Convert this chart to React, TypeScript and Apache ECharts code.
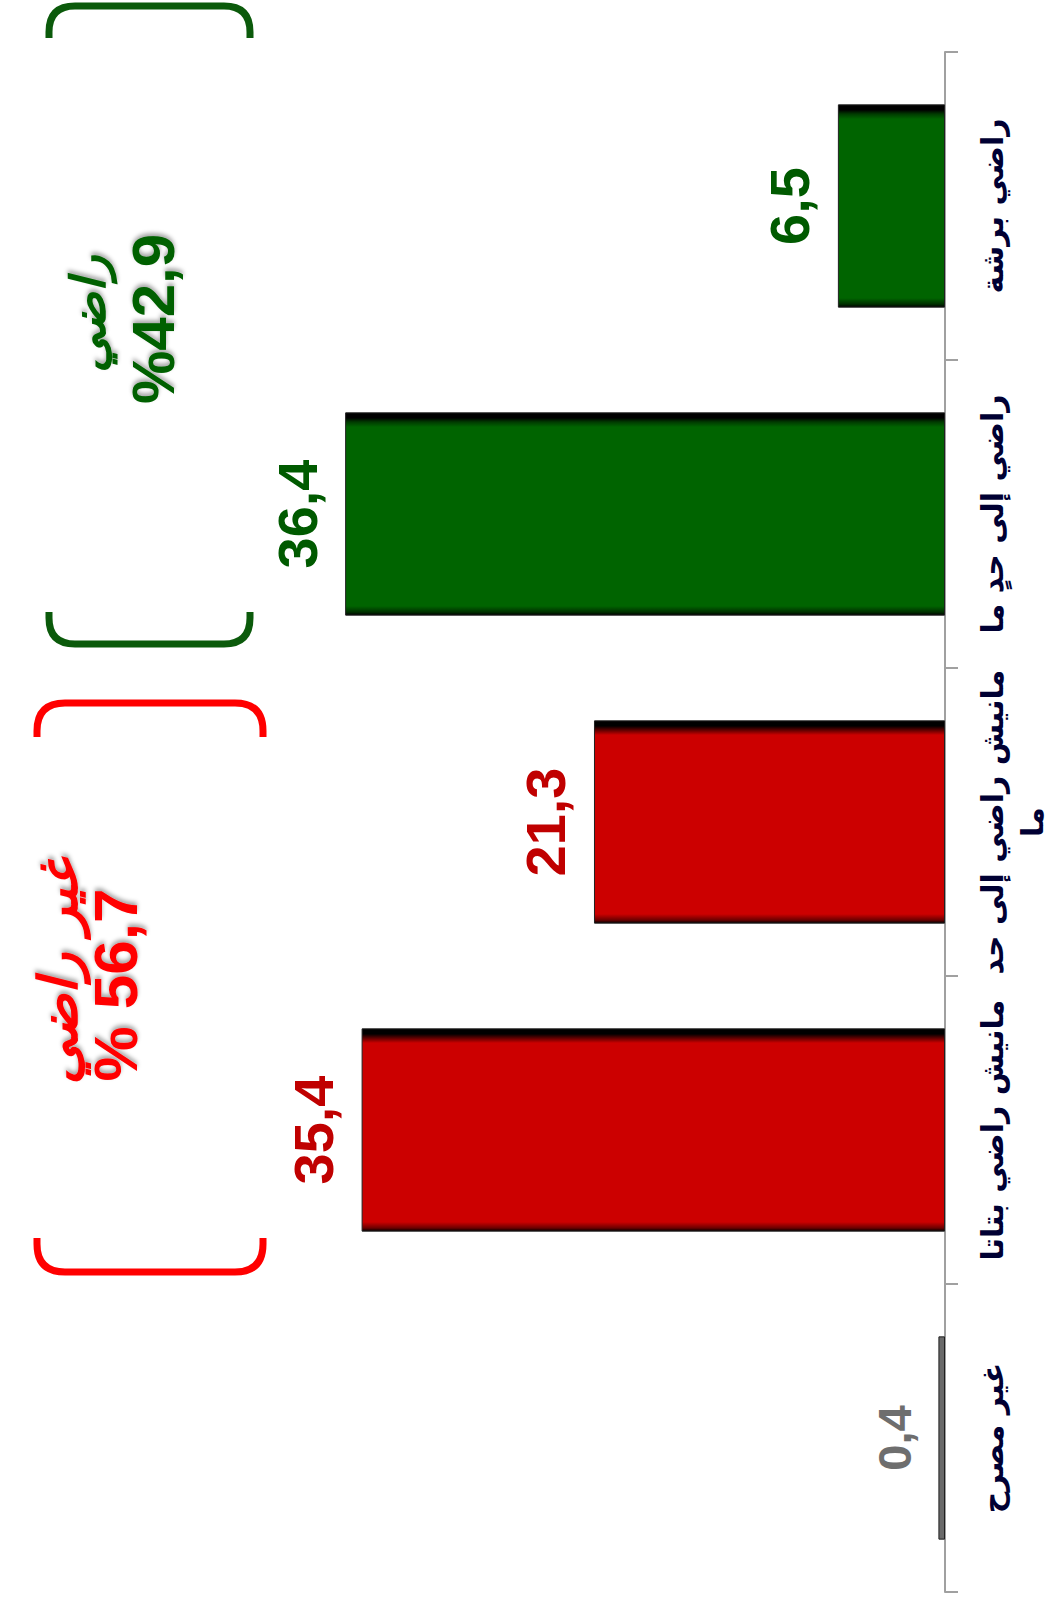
import React, { useEffect, useRef } from 'react';
import * as echarts from 'echarts';

// ---- data ----
const categories = ['غير مصرح', 'مانيش راضي بتاتا', 'مانيش راضي إلى حد\nما', 'راضي إلى حدٍ ما', 'راضي برشة'];
const values = [0.4, 35.4, 21.3, 36.4, 6.5];
const groups = ['neutral', 'red', 'red', 'green', 'green'];
const summaryTitles = ['راضي', 'غير راضي'];
const summaryValues = ['%42,9', '% 56,7'];

// ---- styles ----
const grad = (dark: string, base: string, bottom: string) => ({
  type: 'linear', x: 0, y: 0, x2: 0, y2: 1,
  colorStops: [
    { offset: 0, color: '#000000' },
    { offset: 0.025, color: '#000000' },
    { offset: 0.045, color: dark },
    { offset: 0.07, color: base },
    { offset: 0.955, color: base },
    { offset: 0.985, color: bottom },
    { offset: 1, color: '#000000' },
  ],
});

const groupStyle: Record<string, any> = {
  green: { bar: grad('#003a00', '#006400', '#003000'), label: '#005a00', size: 56 },
  red: { bar: grad('#5a0000', '#cc0000', '#6a0000'), label: '#c00000', size: 56 },
  neutral: { bar: '#6a6a6a', label: '#6e6e6e', size: 47 },
};

const bracketPath = (w: number, h: number, r: number, top: boolean) =>
  top
    ? `M0,${h} L0,${r} Q0,0 ${r},0 L${w - r},0 Q${w},0 ${w},${r} L${w},${h}`
    : `M0,0 L0,${h - r} Q0,${h} ${r},${h} L${w - r},${h} Q${w},${h} ${w},${h - r} L${w},0`;

echarts.graphic.registerShape('brGreenTop', echarts.graphic.extendPath(bracketPath(201, 32, 26, true), {}));
echarts.graphic.registerShape('brGreenBottom', echarts.graphic.extendPath(bracketPath(201, 32, 26, false), {}));
echarts.graphic.registerShape('brRedTop', echarts.graphic.extendPath(bracketPath(226, 34, 28, true), {}));
echarts.graphic.registerShape('brRedBottom', echarts.graphic.extendPath(bracketPath(226, 34, 28, false), {}));

const summaryText = (text: string, x: number, y: number, color: string, font: string) => ({
  type: 'text',
  x,
  y,
  rotation: Math.PI / 2,
  style: {
    text,
    font,
    fill: color,
    align: 'center',
    verticalAlign: 'middle',
    textAlign: 'center',
    textVerticalAlign: 'middle',
    textShadowColor: 'rgba(0,0,0,0.35)',
    textShadowBlur: 4,
    textShadowOffsetX: 3,
    textShadowOffsetY: 0,
  },
});

export default function App() {
  const ref = useRef<HTMLDivElement>(null);

  useEffect(() => {
    const chart = echarts.init(ref.current!, null, { renderer: 'svg' });
    const data = values.map((v, i) => {
      const g = groupStyle[groups[i]];
      return {
        value: v,
        itemStyle: { color: g.bar, borderColor: '#202020', borderWidth: 1 },
        label: { color: g.label, fontSize: g.size },
      };
    });

    chart.setOption({
      animation: false,
      backgroundColor: '#ffffff',
      grid: { left: 121, right: 109, top: 52, bottom: 8 },
      xAxis: {
        type: 'value',
        inverse: true,
        min: 0,
        max: 50,
        show: false,
        splitLine: { show: false },
      },
      yAxis: {
        type: 'category',
        position: 'right',
        data: categories,
        axisLine: { show: true, onZero: false, lineStyle: { color: '#a0a0a0', width: 2 } },
        axisTick: { show: true, length: 13, lineStyle: { color: '#a0a0a0', width: 2 } },
        axisLabel: {
          interval: 0,
          hideOverlap: false,
          rotate: 90,
          margin: 27,
          color: '#000033',
          fontSize: 30,
          fontWeight: 'bold',
          fontFamily: '"DejaVu Sans", sans-serif',
          lineHeight: 40,
        },
        splitLine: { show: false },
      },
      series: [
        {
          type: 'bar',
          data,
          barCategoryGap: '34%',
          label: {
            show: true,
            position: 'outside',
            distance: 20,
            rotate: 90,
            align: 'center',
            verticalAlign: 'bottom',
            fontWeight: 'bold',
            fontFamily: '"Liberation Sans", Arial, sans-serif',
            formatter: (p: any) => String(p.value).replace('.', ','),
          },
        },
      ],
      graphic: [
        { type: 'brGreenTop', x: 49, y: 6, style: { stroke: '#0b5a0b', lineWidth: 7, fill: null } },
        { type: 'brGreenBottom', x: 49, y: 612, style: { stroke: '#0b5a0b', lineWidth: 7, fill: null } },
        { type: 'brRedTop', x: 37, y: 703, style: { stroke: '#ff0000', lineWidth: 7, fill: null } },
        { type: 'brRedBottom', x: 37, y: 1238, style: { stroke: '#ff0000', lineWidth: 7, fill: null } },
        summaryText(summaryTitles[0], 88, 314, '#006000', 'italic bold 48px "DejaVu Sans", sans-serif'),
        summaryText(summaryValues[0], 153, 319, '#006000', 'bold 60px "Liberation Sans", Arial, sans-serif'),
        summaryText(summaryTitles[1], 58, 972, '#ff0000', 'italic bold 54px "DejaVu Sans", sans-serif'),
        summaryText(summaryValues[1], 115, 985, '#ff0000', 'bold 62px "Liberation Sans", Arial, sans-serif'),
      ],
    });
    return () => chart.dispose();
  }, []);

  return (
    <div
      ref={ref}
      style={{ position: 'absolute', left: 0, top: 0, width: 1054, height: 1600, background: '#ffffff' }}
    />
  );
}
